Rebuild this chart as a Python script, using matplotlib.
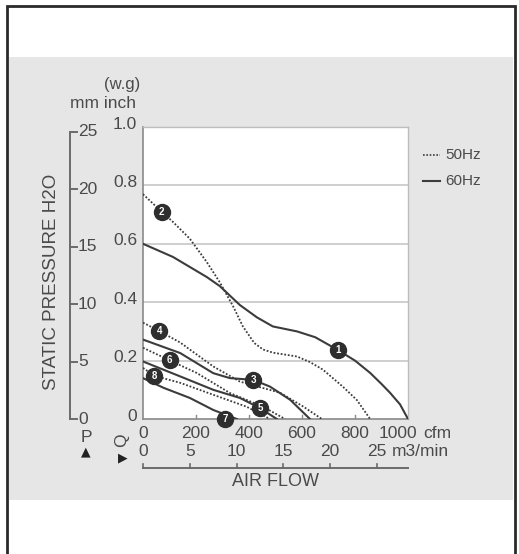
import matplotlib
matplotlib.use('Agg')
import matplotlib.pyplot as plt
from matplotlib import transforms
from matplotlib.patches import Rectangle
from matplotlib.lines import Line2D

plt.rcParams['font.family'] = ['Liberation Sans', 'DejaVu Sans']

# fan curves: air flow in cfm, static pressure in inch w.g.
fan1_cfm = [0, 113, 241, 290, 366, 430, 490, 581, 650, 732, 800, 857, 900, 932, 970, 1000]
fan1_inch = [0.60, 0.555, 0.486, 0.455, 0.39, 0.348, 0.317, 0.30, 0.28, 0.238, 0.20, 0.158, 0.12, 0.09, 0.05, 0.0]
fan2_cfm = [0, 70, 113, 177, 241, 290, 340, 377, 420, 453, 491, 540, 581, 630, 679, 755, 807, 857]
fan2_inch = [0.77, 0.71, 0.675, 0.617, 0.537, 0.468, 0.386, 0.317, 0.26, 0.238, 0.227, 0.22, 0.214, 0.195, 0.169, 0.11, 0.065, 0.0]
fan3_cfm = [0, 140, 265, 328, 416, 479, 555, 630]
fan3_inch = [0.272, 0.226, 0.157, 0.14, 0.134, 0.111, 0.066, 0.0]
fan4_cfm = [0, 62, 140, 265, 366, 517, 604, 675]
fan4_inch = [0.33, 0.301, 0.262, 0.18, 0.128, 0.09, 0.043, 0.0]
fan5_cfm = [0, 140, 265, 366, 442, 505]
fan5_inch = [0.197, 0.146, 0.10, 0.072, 0.037, 0.0]
fan6_cfm = [0, 100, 202, 328, 453, 536]
fan6_inch = [0.244, 0.201, 0.158, 0.089, 0.042, 0.0]
fan7_cfm = [0, 77, 177, 265, 354]
fan7_inch = [0.14, 0.107, 0.072, 0.031, 0.0]
fan8_cfm = [0, 43, 140, 265, 391, 479]
fan8_inch = [0.175, 0.148, 0.124, 0.083, 0.042, 0.0]

# numbered badges on the curves
badge_names = ['1', '2', '3', '4', '5', '6', '7', '8']
badge_cfm = [735, 70, 416, 62, 442, 100, 309, 43]
badge_inch = [0.238, 0.709, 0.134, 0.301, 0.037, 0.201, 0.0, 0.148]

cfm_ticks = [0, 200, 400, 600, 800, 1000]
m3min_ticks = [0, 5, 10, 15, 20, 25]
mm_ticks = [0, 5, 10, 15, 20, 25]
inch_ticks = [0, 0.2, 0.4, 0.6, 0.8, 1.0]
CFM_PER_M3MIN = 35.3147
MM_PER_INCH = 25.4

W, H = 519, 554
INK = '#3c3c3c'
TXT = '#4a4a4a'


def fx(px):
    return px / W


def fy(py):
    return 1 - py / H


fig = plt.figure(figsize=(W / 100, H / 100), dpi=100)
fig.patch.set_facecolor('white')

# grey band and outer frame, kept behind the axes
fig.patches.append(Rectangle((fx(9), fy(500)), fx(513) - fx(9), fy(57) - fy(500),
                             transform=fig.transFigure, facecolor='#e6e6e6', edgecolor='none', zorder=-3))
fig.patches.append(Rectangle((fx(7), fy(560)), fx(515) - fx(7), fy(6) - fy(560),
                             transform=fig.transFigure, facecolor='none', edgecolor='#2a2a2a', lw=2, zorder=-2))

ax = fig.add_axes([fx(143), fy(419), fx(408) - fx(143), fy(127) - fy(419)])
ax.set_zorder(2)
ax.set_facecolor('white')
ax.set_xlim(0, 1000)
ax.set_ylim(0, 1.0)
for y in inch_ticks[1:-1]:
    ax.axhline(y, color='#cfcfcf', lw=1.4, zorder=1)
for side in ['top', 'right']:
    ax.spines[side].set_color('#bdbdbd')
    ax.spines[side].set_linewidth(1.0)
for side in ['left', 'bottom']:
    ax.spines[side].set_color('#8a8a8a')
    ax.spines[side].set_linewidth(1.2)
ax.set_xticks([])
ax.set_yticks([])
# small ticks pointing into the plot on the cfm axis
for v in cfm_ticks[1:-1]:
    ax.plot([v, v], [0, 0.012], color='#8a8a8a', lw=1, zorder=2)

solid = dict(color=INK, lw=1.5, zorder=3)
dotted = dict(color=INK, lw=1.3, ls=(0, (1, 1)), zorder=3)
ax.plot(fan1_cfm, fan1_inch, **solid)
ax.plot(fan2_cfm, fan2_inch, **dotted)
ax.plot(fan3_cfm, fan3_inch, **solid)
ax.plot(fan4_cfm, fan4_inch, **dotted)
ax.plot(fan5_cfm, fan5_inch, **solid)
ax.plot(fan6_cfm, fan6_inch, **dotted)
ax.plot(fan7_cfm, fan7_inch, **solid)
ax.plot(fan8_cfm, fan8_inch, **dotted)

for name, x, y in zip(badge_names, badge_cfm, badge_inch):
    ax.plot(x, y, 'o', ms=11.5, color='#2e2e2e', mec='#2e2e2e', zorder=5, clip_on=False)
    ax.text(x, y, name, color='white', fontsize=7, fontweight='bold', ha='center', va='center',
            zorder=6, clip_on=False)

# pressure scales to the left (mm and inch)
ytr = transforms.blended_transform_factory(fig.transFigure, ax.transData)
fig.lines.append(Line2D([fx(70), fx(70)], [0, mm_ticks[-1] / MM_PER_INCH], transform=ytr, color='#6a6a6a', lw=1.4))
for mm in mm_ticks:
    y = mm / MM_PER_INCH
    fig.lines.append(Line2D([fx(70), fx(77)], [y, y], transform=ytr, color='#6a6a6a', lw=1.4))
    fig.text(fx(78), y, str(mm), transform=ytr, ha='left', va='center', fontsize=12.5, color=TXT)
for v in inch_ticks:
    lab = '0' if v == 0 else f'{v:.1f}'
    fig.text(fx(137), v + 0.01, lab, transform=ytr, ha='right', va='center', fontsize=12.5, color=TXT)

fig.text(fx(122), fy(85), '(w.g)', ha='center', va='center', fontsize=12, color=TXT)
fig.text(fx(103), fy(103), 'mm inch', ha='center', va='center', fontsize=12.5, color=TXT)
fig.text(fx(52), fy(282), 'STATIC PRESSURE H2O', rotation=90, ha='center', va='center',
         fontsize=13.5, color=TXT)

# air flow scales below
xtr = transforms.blended_transform_factory(ax.transData, fig.transFigure)
for v in cfm_ticks:
    x = v - 38 if v == 1000 else v
    fig.text(x, fy(433), str(v), transform=xtr, ha='center', va='center', fontsize=12.5, color=TXT)
fig.text(fx(423), fy(433), 'cfm', ha='left', va='center', fontsize=12.5, color=TXT)
for v in m3min_ticks:
    fig.text(v * CFM_PER_M3MIN, fy(452), str(v), transform=xtr, ha='center', va='center',
             fontsize=12.5, color=TXT)
fig.text(fx(392), fy(452), 'm3/min', ha='left', va='center', fontsize=12.5, color=TXT)
fig.lines.append(Line2D([0, 1000], [fy(468), fy(468)], transform=xtr, color='#6a6a6a', lw=1.4))
for v in m3min_ticks:
    x = v * CFM_PER_M3MIN
    fig.lines.append(Line2D([x, x], [fy(468), fy(464)], transform=xtr, color='#6a6a6a', lw=1.2))
fig.text(fx(275), fy(482), 'AIR FLOW', ha='center', va='center', fontsize=13, color=TXT)

fig.text(fx(86), fy(437), 'P', ha='center', va='center', fontsize=12.5, color=TXT)
fig.text(fx(86), fy(452), '▲', ha='center', va='center', fontsize=9, color='#222222',
         family=['DejaVu Sans'])
fig.text(fx(122), fy(440), 'Q', rotation=90, ha='center', va='center', fontsize=12.5, color=TXT)
fig.text(fx(123), fy(458), '▶', ha='center', va='center', fontsize=9, color='#222222',
         family=['DejaVu Sans'])

# legend
fig.lines.append(Line2D([fx(423), fx(440)], [fy(155), fy(155)], transform=fig.transFigure,
                        color=INK, lw=1.2, ls=(0, (1, 1))))
fig.text(fx(445), fy(155), '50Hz', ha='left', va='center', fontsize=11, color=TXT)
fig.lines.append(Line2D([fx(423), fx(440)], [fy(181), fy(181)], transform=fig.transFigure,
                        color=INK, lw=1.5))
fig.text(fx(445), fy(181), '60Hz', ha='left', va='center', fontsize=11, color=TXT)

fig.savefig('out.png', dpi=100)
